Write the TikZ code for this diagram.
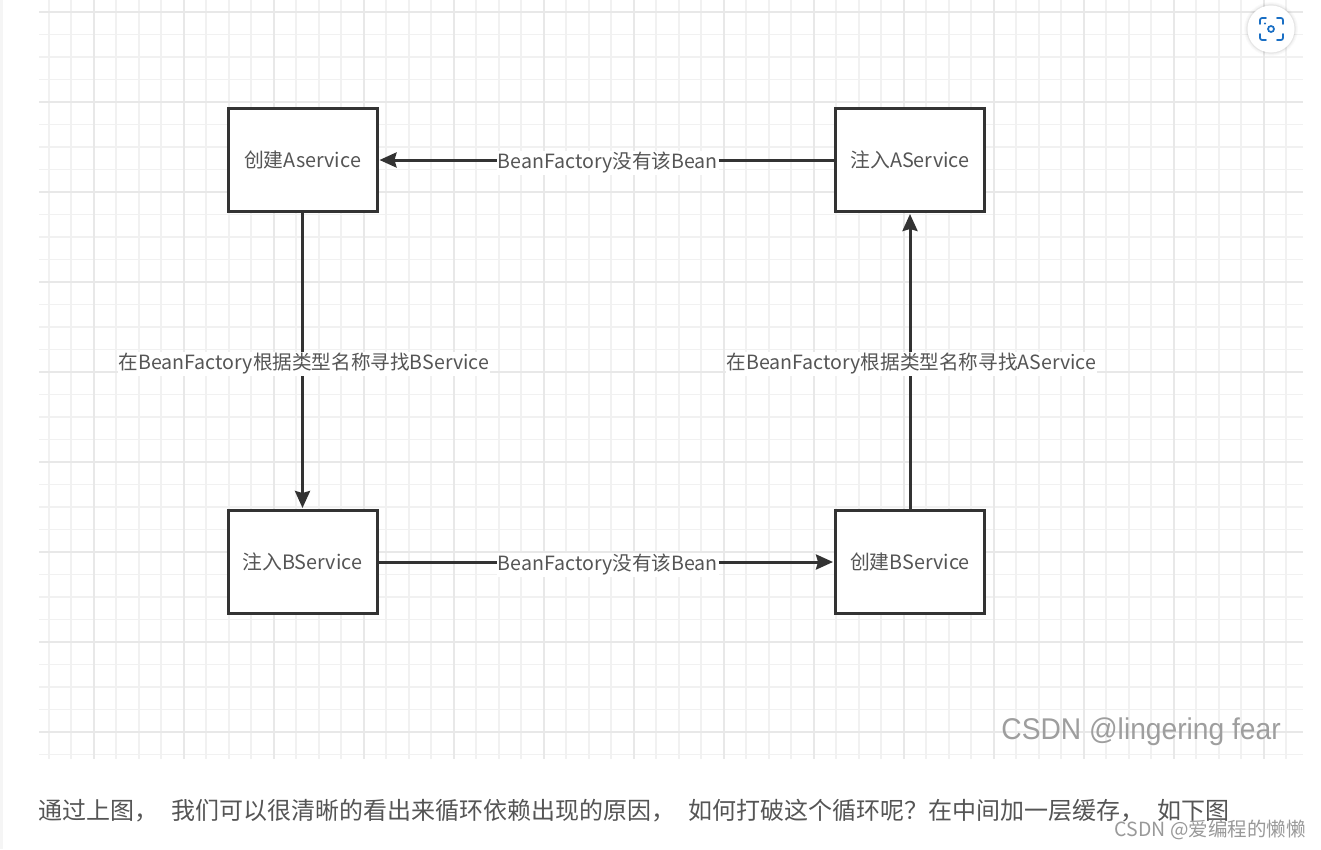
\documentclass[tikz,border=0pt]{standalone}
\usepackage{fontspec}
\setmainfont{Noto Sans CJK SC}
\newfontfamily\markfont[FakeStretch=0.94]{Liberation Sans}
\usetikzlibrary{arrows.meta}
\definecolor{inkdark}{HTML}{333333}
\definecolor{labelgray}{HTML}{555555}
\definecolor{gridminor}{HTML}{F1F1F1}
\definecolor{gridmajor}{HTML}{E8E8E8}
\definecolor{iconblue}{HTML}{1A6FC4}
\tikzset{
  beanbox/.style={draw=inkdark, line width=3pt, fill=white, minimum width=149pt, minimum height=103pt, inner sep=0pt, text=labelgray, font=\fontsize{19.8}{24}\selectfont},
  beanlabel/.style={fill=white, text=labelgray, inner sep=1pt, xshift=1.5pt, yshift=-3pt, font=\fontsize{19.6}{24}\selectfont},
  beanarrow/.style={draw=inkdark, line width=3pt, -{Stealth[length=17pt,width=15pt,inset=2pt]}, shorten >=1pt}
}
\begin{document}
\begin{tikzpicture}[x=1pt, y=-1pt]
\useasboundingbox (0,0) rectangle (1321,849);
\fill[white] (0,0) rectangle (1321,849);
\fill[black!4] (0,0) rectangle (3,849);

% Grid
\begin{scope}
\clip (39,0) rectangle (1303,759);
\foreach \gx in {48.7,71.2,116.2,138.7,161.2} {
  \foreach \gk in {0,...,13} {
    \draw[gridminor, line width=1.6pt] ({\gx+90*\gk},0) -- ({\gx+90*\gk},759);
  }
}
\foreach \gy in {34.5,57,79.5,124.5,147,169.5} {
  \foreach \gk in {0,...,8} {
    \draw[gridminor, line width=1.6pt] (39,{\gy+90*\gk}) -- (1303,{\gy+90*\gk});
  }
}
\foreach \gk in {0,...,13} {
  \draw[gridmajor, line width=1.6pt] ({93.7+90*\gk},0) -- ({93.7+90*\gk},759);
}
\foreach \gk in {0,...,8} {
  \draw[gridmajor, line width=1.6pt] (39,{12+90*\gk}) -- (1303,{12+90*\gk});
}
\end{scope}

% Boxes
\node[beanbox] (createA) at (302.5,160) {创建Aservice};
\node[beanbox] (injectA) at (910,160) {注入AService};
\node[beanbox] (injectB) at (302.5,562) {注入BService};
\node[beanbox] (createB) at (910,562) {创建BService};

% Arrows
\draw[beanarrow] (injectA) -- (createA) node[beanlabel, midway] (labelTop) {BeanFactory没有该Bean};
\draw[beanarrow] (createA) -- (injectB) node[beanlabel, pos=0.5] (labelLeft) {在BeanFactory根据类型名称寻找BService};
\draw[beanarrow] (injectB) -- (createB) node[beanlabel, midway] (labelBottom) {BeanFactory没有该Bean};
\draw[beanarrow] (createB) -- (injectA) node[beanlabel, pos=0.5] (labelRight) {在BeanFactory根据类型名称寻找AService};

% Scan icon
\foreach \ringr/\ringo in {27/0.02,26/0.02,25/0.03,24.5/0.03} {
  \fill[black, opacity=\ringo] (1271,29) circle (\ringr);
}
\fill[white] (1271,29) circle (23.5);
\begin{scope}[iconblue, line width=1.7pt, line cap=round]
\draw[rounded corners=2pt] (1260,24) -- (1260,18) -- (1266,18);
\draw[rounded corners=2pt] (1277,18) -- (1283,18) -- (1283,24);
\draw[rounded corners=2pt] (1283,34) -- (1283,40) -- (1277,40);
\draw[rounded corners=2pt] (1266,40) -- (1260,40) -- (1260,34);
\draw (1271,29) circle (3);
\fill (1265,23.5) circle (1.1);
\end{scope}

% Watermarks and caption
\node[text=black!38, anchor=east, inner sep=0pt, font=\markfont\fontsize{30}{34}\selectfont] (markImage) at (1281,732) {CSDN @lingering fear};
\node[text=labelgray, anchor=west, inner sep=0pt, font=\fontsize{24}{28}\selectfont] (caption) at (38,811) {通过上图，\hspace{8pt} 我们可以很清晰的看出来循环依赖出现的原因，\hspace{8pt} 如何打破这个循环呢？在中间加一层缓存，\hspace{7pt} 如下图};
\node[text=black!40, anchor=east, inner sep=0pt, font=\fontsize{19.5}{24}\selectfont] (markPage) at (1306,830) {CSDN @爱编程的懒懒};
\end{tikzpicture}
\end{document}
